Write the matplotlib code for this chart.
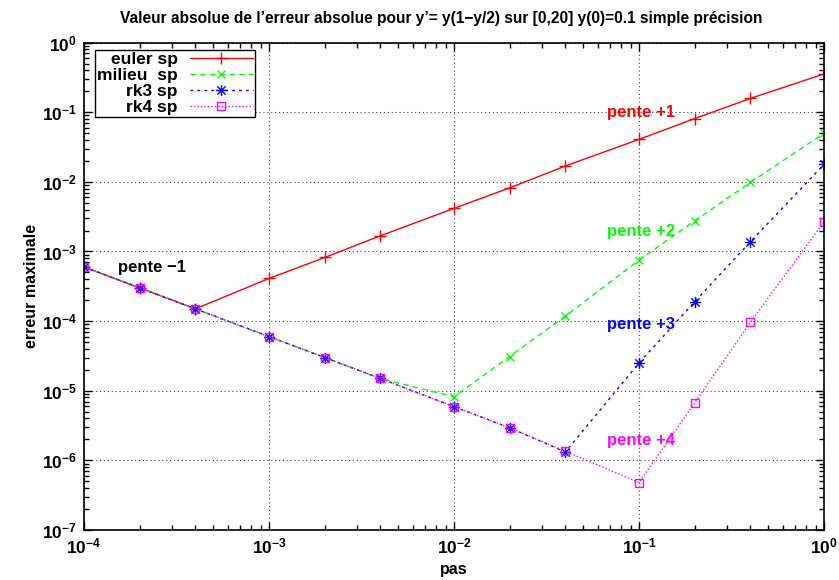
import matplotlib
matplotlib.use('Agg')
import matplotlib.pyplot as plt
from matplotlib.path import Path
from matplotlib.ticker import LogLocator, NullFormatter

plt.rcParams['font.family'] = ['Liberation Sans Narrow', 'Liberation Sans', 'DejaVu Sans']
plt.rcParams['font.weight'] = 'bold'
plt.rcParams['mathtext.fontset'] = 'custom'
plt.rcParams['mathtext.rm'] = 'Liberation Sans:bold'
plt.rcParams['mathtext.it'] = 'Liberation Sans:bold'
plt.rcParams['mathtext.bf'] = 'Liberation Sans:bold'
plt.rcParams['mathtext.default'] = 'rm'

# pas de temps
pas = [1e-4, 2e-4, 4e-4, 1e-3, 2e-3, 4e-3, 1e-2, 2e-2, 4e-2, 1e-1, 2e-1, 4e-1, 1.0]

# erreur maximale pour chaque methode (simple precision)
err_euler = [6.0e-4, 3.0e-4, 1.5e-4, 4.1e-4, 8.2e-4, 1.68e-3, 4.16e-3, 8.2e-3, 1.69e-2, 4.08e-2, 8.1e-2, 0.158, 0.354]
err_milieu = [6.0e-4, 3.0e-4, 1.5e-4, 6.0e-5, 3.0e-5, 1.5e-5, 8.2e-6, 3.1e-5, 1.18e-4, 7.5e-4, 2.76e-3, 9.8e-3, 4.97e-2]
err_rk3 = [6.0e-4, 3.0e-4, 1.5e-4, 6.0e-5, 3.0e-5, 1.5e-5, 5.9e-6, 2.93e-6, 1.32e-6, 2.5e-5, 1.9e-4, 1.38e-3, 1.78e-2]
err_rk4 = [6.0e-4, 3.0e-4, 1.5e-4, 6.0e-5, 3.0e-5, 1.5e-5, 5.9e-6, 2.93e-6, 1.35e-6, 4.8e-7, 6.7e-6, 9.6e-5, 2.67e-3]

# etiquettes des pentes : texte, x, y, couleur
pentes = ['pente -1', 'pente +1', 'pente +2', 'pente +3', 'pente +4']
pentes_x = [1.52e-4, 0.0671, 0.0671, 0.0671, 0.0671]
pentes_y = [5.83e-4, 0.098, 1.96e-3, 8.8e-5, 1.95e-6]
pentes_c = ['black', '#ff0000', '#00ff00', '#0000ff', '#ff00ff']

# marqueur "etoile" facon gnuplot : + et x superposes
asterisk = Path([(-1, 0), (1, 0), (0, -1), (0, 1), (-0.75, -0.75), (0.75, 0.75), (-0.75, 0.75), (0.75, -0.75)],
                [Path.MOVETO, Path.LINETO] * 4)

fig = plt.figure(figsize=(8.39, 5.8), dpi=100)
ax = fig.add_axes([84 / 839, 1 - 530 / 580, 740 / 839, 487.4 / 580])

ax.plot(pas, err_euler, color='#ff0000', lw=1, marker='+', ms=8, mew=1, label='euler sp')
ax.plot(pas, err_milieu, color='#00ff00', lw=1, ls=(0, (4, 3)), marker='x', ms=6, mew=1, label='milieu  sp')
ax.plot(pas, err_rk3, color='#0000ff', lw=1, ls=(0, (2, 3)), marker=asterisk, ms=8, mew=1, label='rk3 sp')
ax.plot(pas, err_rk4, color='#ff00ff', lw=1, ls=(0, (1, 1.5)), marker='s', ms=6, mew=1,
        mfc='none', label='rk4 sp')

for txt, x, y, c in zip(pentes, pentes_x, pentes_y, pentes_c):
    ax.text(x, y, txt.replace('-', '\u2212'), color=c, fontsize=12, fontweight='bold', ha='left', va='center')

ax.set_xscale('log')
ax.set_yscale('log')
ax.set_xlim(1e-4, 1)
ax.set_ylim(1e-7, 1)
ax.xaxis.set_major_locator(LogLocator(base=10, numticks=10))
ax.yaxis.set_major_locator(LogLocator(base=10, numticks=10))
ax.xaxis.set_minor_locator(LogLocator(base=10, subs=range(2, 10), numticks=20))
ax.yaxis.set_minor_locator(LogLocator(base=10, subs=range(2, 10), numticks=20))
ax.xaxis.set_minor_formatter(NullFormatter())
ax.yaxis.set_minor_formatter(NullFormatter())

ax.tick_params(which='both', direction='in', top=True, right=True, labelsize=12.5, width=1)
ax.tick_params(which='major', length=6, pad=5)
ax.tick_params(which='minor', length=3.5)
for s in ax.spines.values():
    s.set_linewidth(1.2)

ax.grid(True, which='major', color='#444444', lw=0.8, ls=(0, (1, 2.5)))

ax.set_xlabel('pas', fontsize=11.5, fontweight='bold', labelpad=4)
ax.set_ylabel('erreur maximale', fontsize=11.5, fontweight='bold', labelpad=2)
fig.text(441 / 839, 1 - 18 / 580, "Valeur absolue de l\u2019erreur absolue pour y\u2019= y(1\u2212y/2) sur [0,20] y(0)=0.1 simple pr\u00e9cision",
         ha='center', va='center', fontsize=11.2, fontweight='bold')

leg = ax.legend(loc='upper left', bbox_to_anchor=(0.0149, 0.985), borderaxespad=0, markerfirst=False,
                fontsize=12.5, frameon=True, fancybox=False, framealpha=1, edgecolor='black',
                handlelength=3.6, handletextpad=0.7, labelspacing=0.05, borderpad=0.12)
leg.get_frame().set_linewidth(1)
for t in leg.get_texts():
    t.set_fontweight('bold')

fig.savefig('out.png', dpi=100)
